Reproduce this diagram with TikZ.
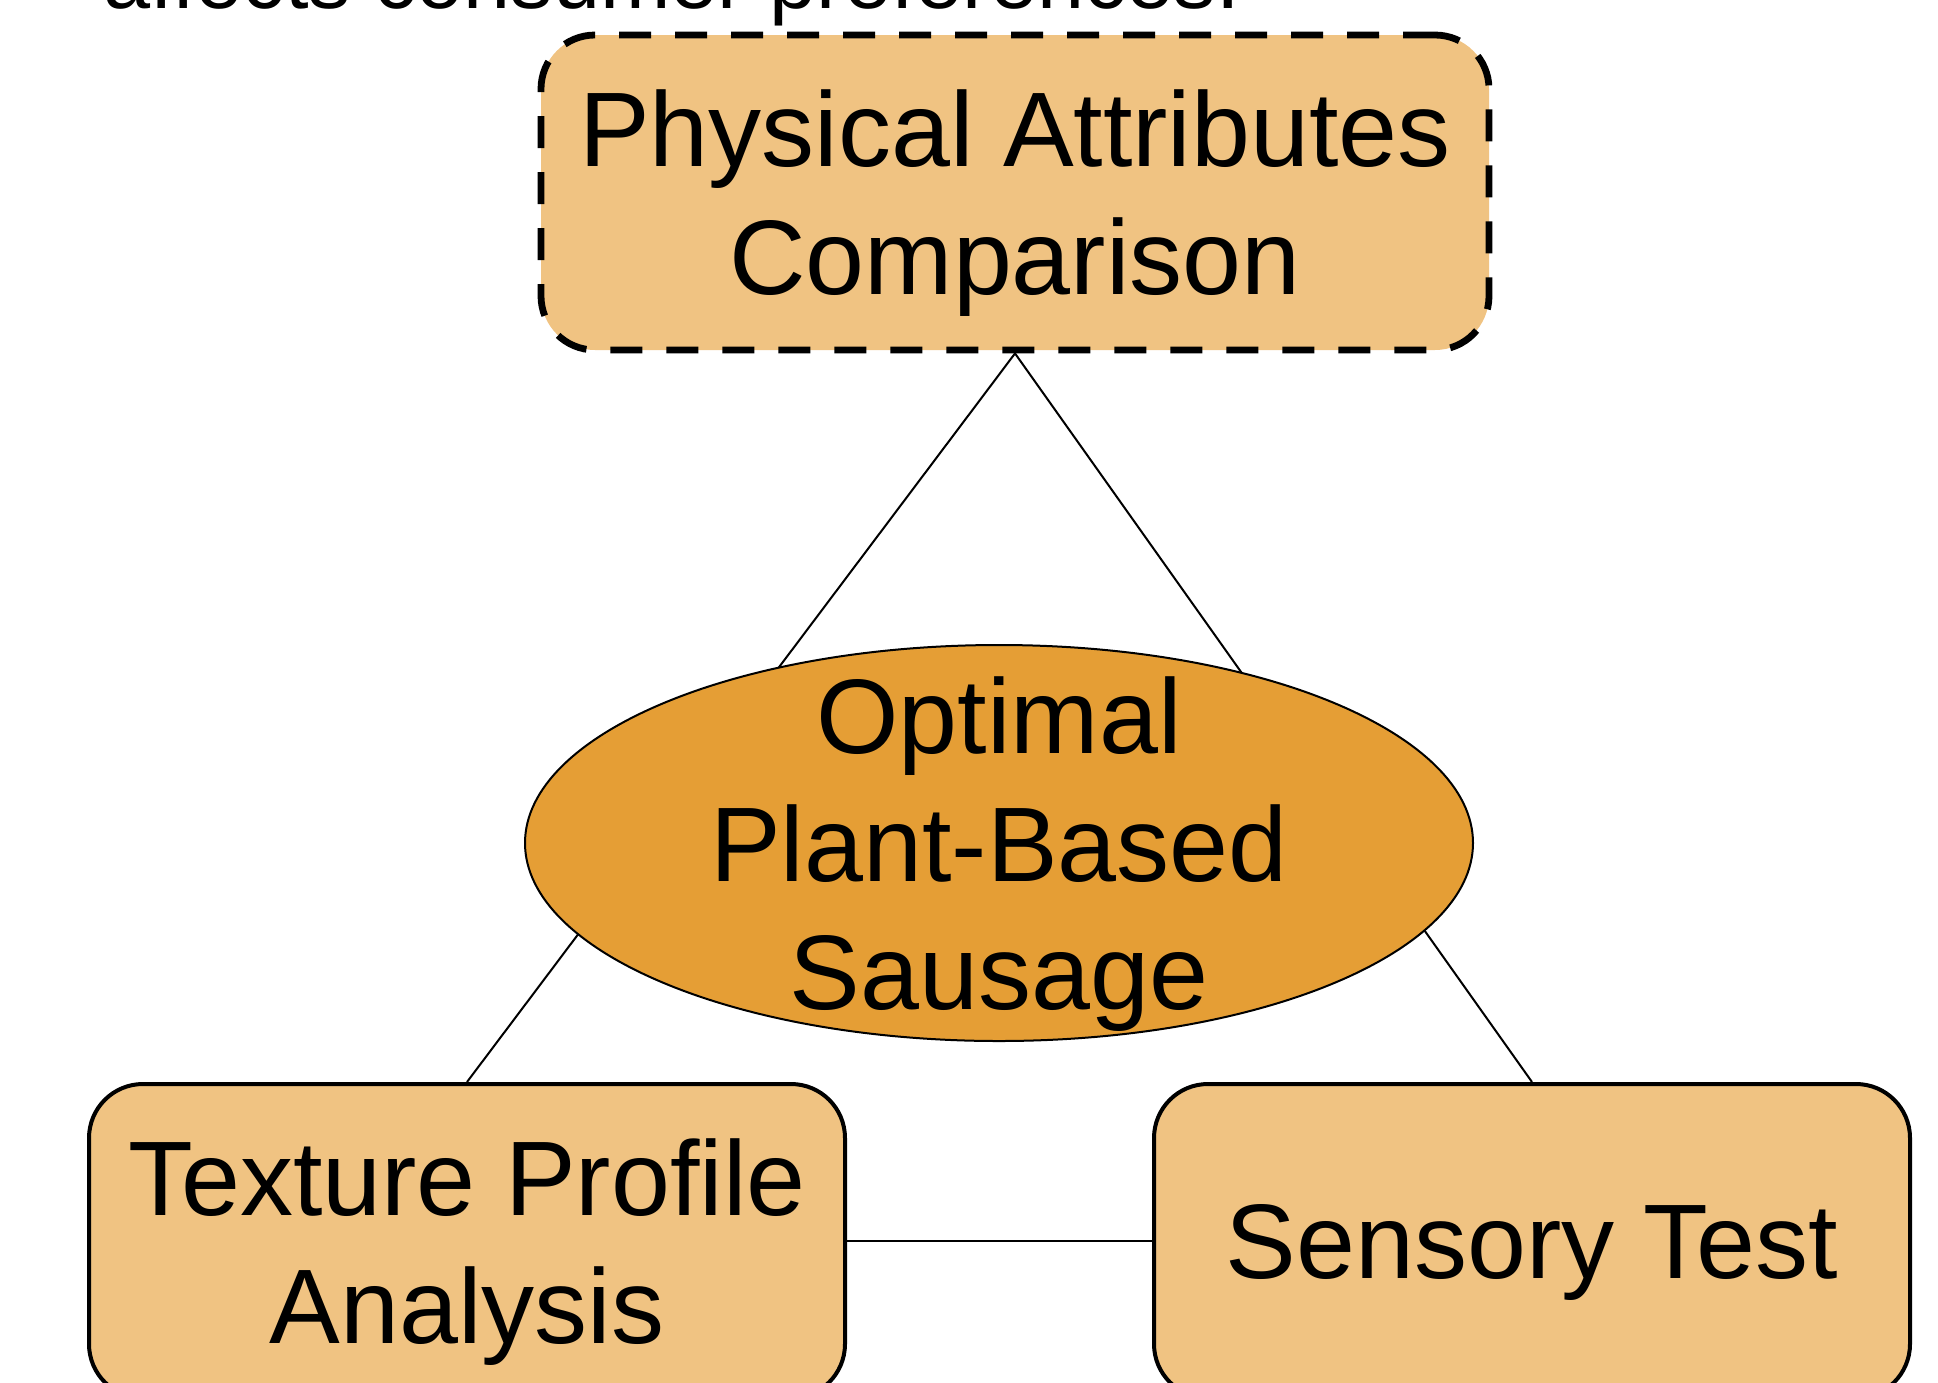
\documentclass[tikz,border=0pt]{standalone}
\usepackage{fontspec}
\setmainfont{Liberation Sans}
\usetikzlibrary{shapes.geometric}
\definecolor{boxfill}{RGB}{240,195,130}
\definecolor{ellfill}{RGB}{229,158,53}
\newcommand\diagfont{\fontsize{53}{64}\selectfont}
\newcommand\topfont{\fontsize{42.3}{50}\selectfont}
\begin{document}
\begin{tikzpicture}[x=0.5pt,y=-0.5pt,
  box/.style={draw=black, line width=2pt, fill=boxfill, rounded corners=27pt,
    minimum width=378pt, minimum height=157pt, inner sep=0pt},
  dashbox/.style={box, line width=3.4pt, dash pattern=on 16pt off 12pt,
    minimum width=474pt, minimum height=157.5pt},
  hub/.style={draw=black, line width=1pt, fill=ellfill, ellipse, inner sep=0pt,
    minimum width=474pt, minimum height=198pt},
  label/.style={align=center, font=\diagfont, inner sep=0pt, yshift=-5.5pt},
  link/.style={draw=black, line width=1pt}]
\useasboundingbox (0,0) rectangle (1938,1382);
\clip (0,0) rectangle (1938,1382);
\node[anchor=base west, inner sep=0pt, font=\topfont] (cap) at (103,8) {affects consumer preferences.};
\node[dashbox] (phys) at (1015,192.5) {};
\node[label] (physt) at (phys.center) {Physical Attributes\\Comparison};
\node[box] (tpa) at (467,1241) {};
\node[label] (tpat) at (tpa.center) {Texture Profile\\Analysis};
\node[box] (sens) at (1532,1241) {};
\node[label] (senst) at (sens.center) {Sensory Test};
\draw[link] (phys.south) -- (tpa.north);
\draw[link] (phys.south) -- (sens.north);
\draw[link] (tpa.east) -- (sens.west);
\node[hub] (opt) at (999,843) {};
\node[label] (optt) at (opt.center) {Optimal\\Plant-Based\\Sausage};
\end{tikzpicture}
\end{document}
